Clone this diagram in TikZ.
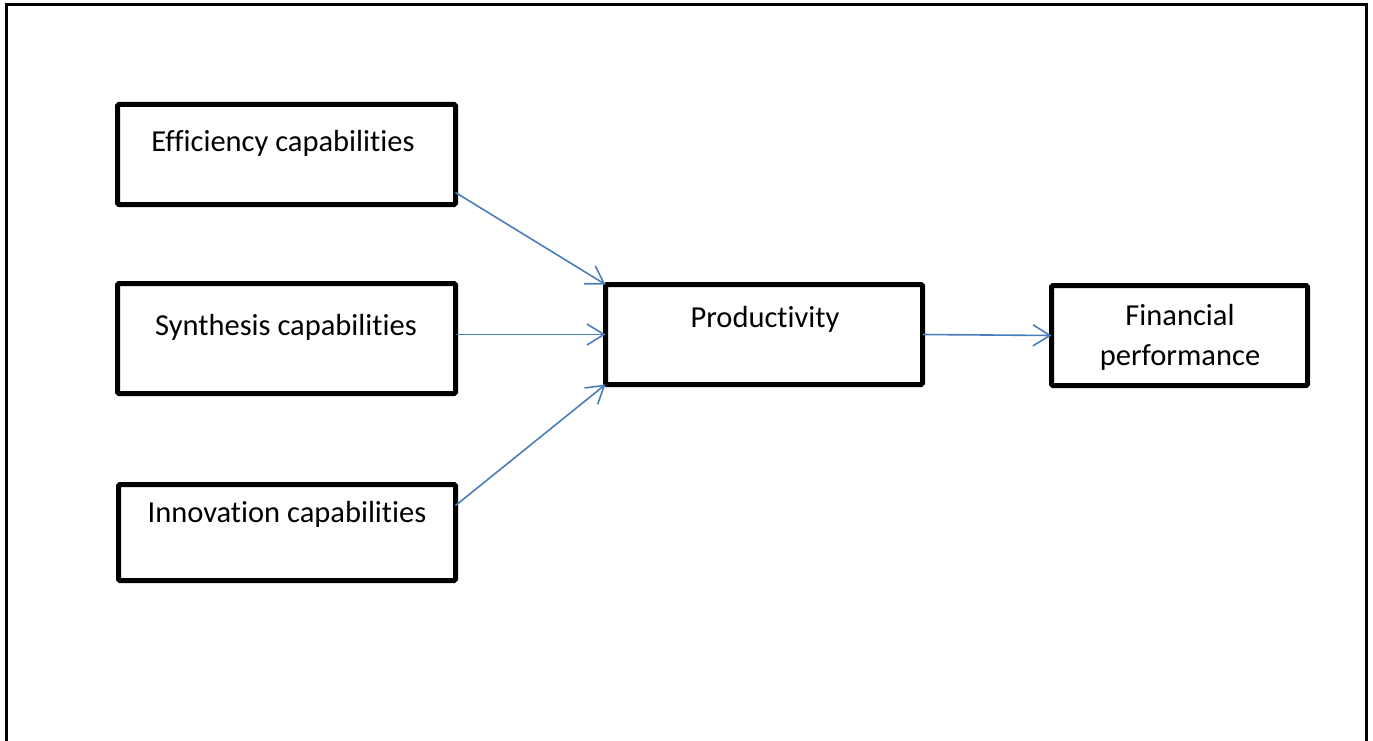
\documentclass[tikz,border=0pt]{standalone}
\usepackage{fontspec}
\setmainfont{Carlito}[Ligatures=NoCommon]
\usetikzlibrary{arrows.meta}
\definecolor{arrowblue}{HTML}{4A7EBB}
\tikzset{
  box/.style={draw=black, line width=5pt, rounded corners=1.5pt, inner sep=0pt, outer sep=0pt, fill=white},
  lbl/.style={inner sep=0pt, outer sep=0pt, font=\fontsize{30.5}{41}\selectfont, align=center},
  arr/.style={draw=arrowblue, line width=1.6pt, -{Straight Barb[length=17pt,width=21pt,line width=1.6pt]}},
  frame/.style={draw=black, line width=3pt}
}
\begin{document}
\begin{tikzpicture}[x=1pt,y=-1pt]
\useasboundingbox (0,0) rectangle (1373,741);
% outer frame (bottom edge lies below the visible area)
\draw[frame] (6,745) -- (6,5) -- (1366,5) -- (1366,745);

% boxes
\node[box, minimum width=338pt, minimum height=100pt] (eff)  at (286.5,154.5) {};
\node[box, minimum width=338pt, minimum height=110pt] (syn)  at (286.5,338.5) {};
\node[box, minimum width=337pt, minimum height=96pt]  (inn)  at (287,532.5) {};
\node[box, minimum width=317pt, minimum height=100pt] (prod) at (764,334.5) {};
\node[box, minimum width=256pt, minimum height=100pt] (fin)  at (1179.5,335.5) {};

% labels
\node[lbl, anchor=base] (efft)  at (283,152) {Efficiency capabilities};
\node[lbl, anchor=base] (synt)  at (286,335) {Synthesis capabilities};
\node[lbl, anchor=base] (innt)  at (287,522) {Innovation capabilities};
\node[lbl, anchor=base] (prodt) at (765,327) {Productivity};
\node[lbl, anchor=base] (fint1) at (1180,325) {Financial};
\node[lbl, anchor=base] (fint2) at (1180,365) {performance};

% connectors
\draw[arr] ([yshift=12pt]eff.south east) -- (prod.north west);
\draw[arr] (prod.west -| syn.east) -- (prod.west);
\draw[arr] ([yshift=-21pt]inn.north east) -- (prod.south west);
\draw[arr] (prod.east) -- (fin.west);
\end{tikzpicture}
\end{document}
